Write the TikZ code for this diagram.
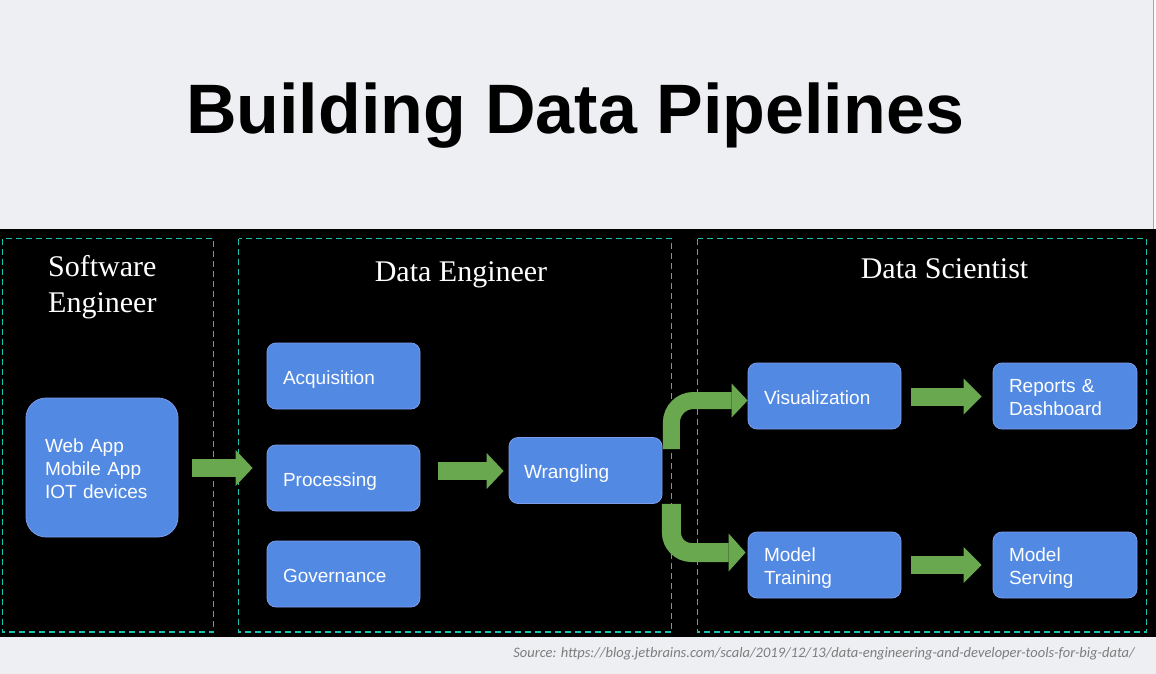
\documentclass[tikz,border=0pt]{standalone}
\usepackage{fontspec}
\setmainfont{Liberation Serif}
\newfontfamily\sansf{Liberation Sans}
\newfontfamily\srcf{Carlito}
\usetikzlibrary{calc}
\definecolor{slidebg}{RGB}{238,239,242}
\definecolor{boxblue}{RGB}{82,137,226}
\definecolor{boxedge}{RGB}{125,155,235}
\definecolor{grn}{RGB}{106,168,79}
\definecolor{teal}{RGB}{26,195,175}
\definecolor{srcgray}{RGB}{125,125,125}
\newcommand\bxfont{\sansf\fontsize{19}{23}\selectfont}
\newcommand\ghead[3]{\fill[grn] ($(#1)+(-#2,#3)$) -- (#1) -- ($(#1)+(-#2,-#3)$) -- cycle;}
\tikzset{
  bluebox/.style={rectangle, rounded corners=9pt, fill=boxblue, draw=boxedge, line width=0.8pt,
    text=white, font=\bxfont, align=left, inner ysep=2pt, text height=16pt, text depth=0pt},
  smallbox/.style={bluebox, text width=121pt, inner xsep=16pt, minimum height=66pt},
  narrowbox/.style={bluebox, text width=112pt, inner xsep=16pt, minimum height=66pt},
  twoline/.style={text depth=24pt},
  dashbox/.style={draw=teal, line width=1.6pt, dash pattern=on 6pt off 4pt},
  heading/.style={text=white, font=\fontsize{30}{36}\selectfont, inner sep=0pt, align=left},
  gshaft/.style={draw=grn, line width=18pt},
}
\begin{document}
\begin{tikzpicture}[x=1pt,y=-1pt]
\useasboundingbox (0,0) rectangle (1156,674);
\fill[slidebg] (0,0) rectangle (1156,674);
\fill[white!97!gray] (1153,0) rectangle (1156,229);
\draw[gray!70, line width=1pt] (1153,0) -- (1153,229);
\fill[black] (0,229) rectangle (1156,637);

% title
\node[anchor=base, inner sep=0pt, font=\sansf\bfseries\fontsize{70}{80}\selectfont] (title) at (575,133) {Building Data Pipelines};

% dashed panels
\draw[dashbox] (2.5,238.5) rectangle (213.5,632);
\draw[dashbox] (238.5,238.5) rectangle (671.5,632);
\draw[dashbox] (697.5,238.5) rectangle (1146.5,632);

% headings
\node[heading, anchor=north west] (hse) at (48,255.5) {Software\\Engineer};
\node[heading, anchor=base] (hde) at (461,281) {Data Engineer};
\node[heading, anchor=base] (hds) at (944.5,278) {Data Scientist};

% boxes
\node[bluebox, rounded corners=20pt, text width=114pt, inner xsep=19pt, minimum height=139pt, text depth=46pt] (web) at (102,467.5) {Web App\\Mobile App\\IOT devices};
\node[smallbox] (acq) at (343.5,376) {Acquisition};
\node[smallbox] (proc) at (343.5,478) {Processing};
\node[smallbox] (gov) at (343.5,574) {Governance};
\node[bluebox, text width=123pt, inner xsep=15pt, minimum height=66pt] (wr) at (585.5,470.5) {Wrangling};
\node[smallbox] (viz) at (824.5,396) {Visualization};
\node[smallbox, twoline] (mt) at (824.5,565) {Model\\Training};
\node[narrowbox, twoline] (rep) at (1065,396) {Reports \&\\Dashboard};
\node[narrowbox, twoline] (ms) at (1065,565) {Model\\Serving};

% straight arrows
\coordinate (a1s) at ($(web.east)+(14,0.5)$);
\coordinate (a1t) at ($(proc.west)+(-14,-10)$);
\draw[gshaft] (a1s) -- ($(a1t)+(-17,0)$);
\ghead{a1t}{17}{18}

\coordinate (a2s) at ($(proc.east)+(18,-7)$);
\coordinate (a2t) at ($(wr.west)+(-5,0.5)$);
\draw[gshaft] (a2s) -- ($(a2t)+(-17,0)$);
\ghead{a2t}{17}{18}

\coordinate (a3s) at ($(viz.east)+(10,0.5)$);
\coordinate (a3t) at ($(rep.west)+(-11,0.5)$);
\draw[gshaft] (a3s) -- ($(a3t)+(-18,0)$);
\ghead{a3t}{18}{18}

\coordinate (a4s) at ($(mt.east)+(10,0)$);
\coordinate (a4t) at ($(ms.west)+(-11,0)$);
\draw[gshaft] (a4s) -- ($(a4t)+(-18,0)$);
\ghead{a4t}{18}{18}

% bent arrows
\coordinate (b1s) at ($(wr.north east)+(9,12)$);
\coordinate (b1t) at ($(viz.west)+(0,4.5)$);
\draw[gshaft, line width=17pt, rounded corners=22pt] (b1s) |- ($(b1t)+(-16,0)$);
\ghead{b1t}{16}{17}

\coordinate (b2s) at ($(wr.south east)+(9,0)$);
\coordinate (b2t) at ($(mt.west)+(-2,-12.5)$);
\draw[gshaft, line width=19pt, rounded corners=20pt] (b2s) |- ($(b2t)+(-17,0)$);
\ghead{b2t}{17}{19}

% source
\node[anchor=base east, inner sep=0pt, text=srcgray, font=\srcf\itshape\fontsize{14.5}{17}\selectfont] (src) at (1135,657) {Source: https://blog.jetbrains.com/scala/2019/12/13/data-engineering-and-developer-tools-for-big-data/};
\end{tikzpicture}
\end{document}
